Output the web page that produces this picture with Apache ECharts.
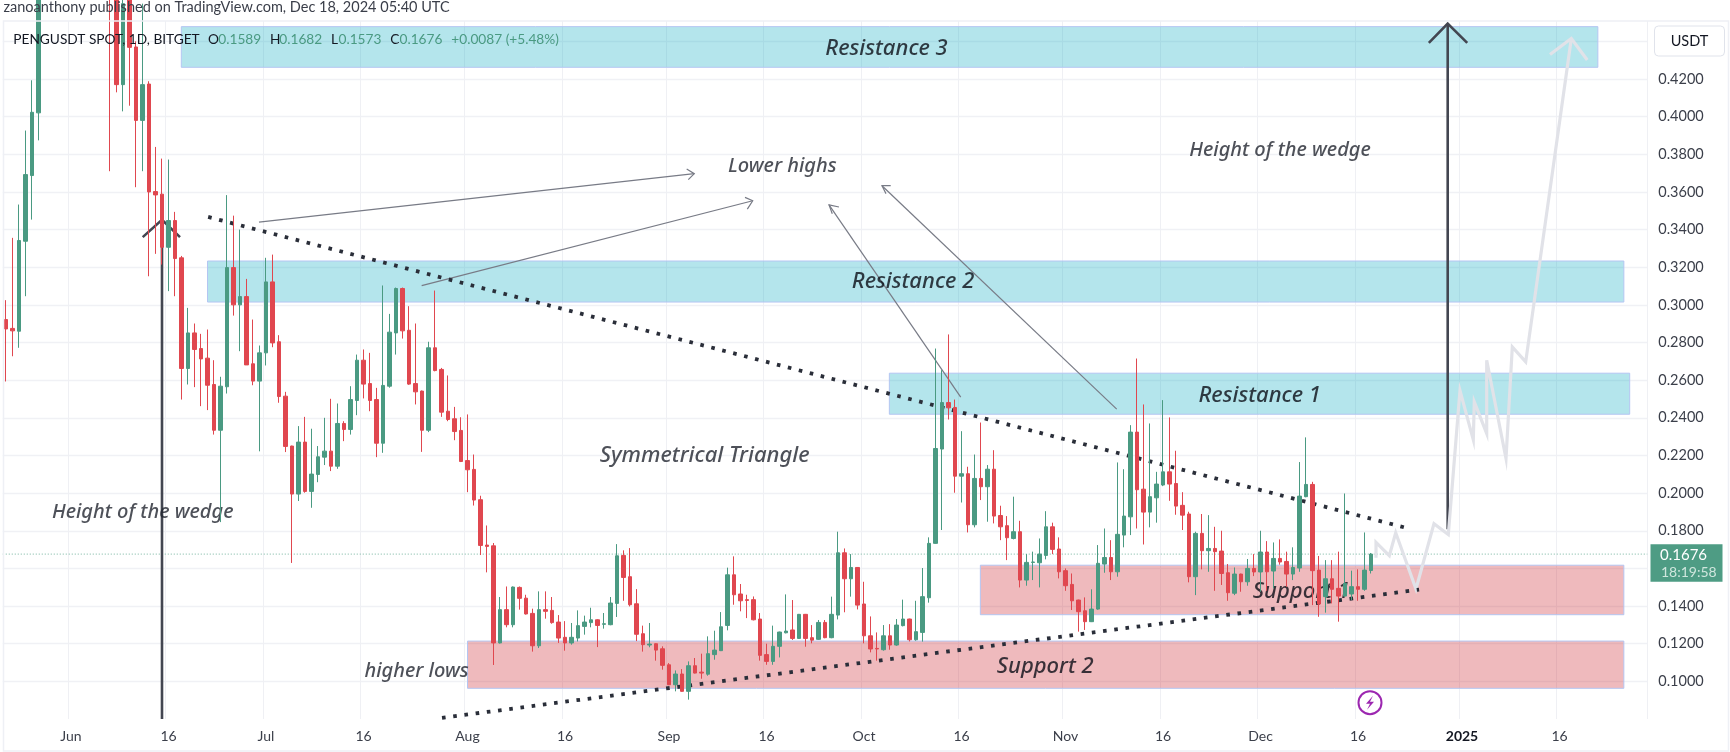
<!DOCTYPE html>
<html>
<head>
<meta charset="utf-8">
<script src="https://cdn.jsdelivr.net/npm/echarts@6/dist/echarts.min.js"></script>
<style>html,body{margin:0;padding:0;background:#fff}#c{width:1730px;height:752px}</style>
</head>
<body>
<div id="c"></div>
<script>
const firstDay = '2024-05-22';
const dayCount = 253;
const xTickLabels = {'2024-06-01':'Jun','2024-06-16':'16','2024-07-01':'Jul','2024-07-16':'16','2024-08-01':'Aug','2024-08-16':'16','2024-09-01':'Sep','2024-09-16':'16','2024-10-01':'Oct','2024-10-16':'16','2024-11-01':'Nov','2024-11-16':'16','2024-12-01':'Dec','2024-12-16':'16','2025-01-01':'2025','2025-01-16':'16'};
const yTickLabels = ['0.1000','0.1200','0.1400','0.1600','0.1800','0.2000','0.2200','0.2400','0.2600','0.2800','0.3000','0.3200','0.3400','0.3600','0.3800','0.4000','0.4200'];

const opens = [
.2922,.2875,.2860,.3338,.3687,.4020,.4700,.5050,.5400,.5250,
.5600,.5300,.5500,.5200,.5350,.4900,.4750,.4700,.4170,.4700,
.4370,.3980,.4173,.3602,.3588,.3306,.3448,.3250,.2662,.2851,
.2768,.2717,.2577,.2334,.2565,.3198,.3000,.3044,.2687,.2595,
.2745,.3122,.2804,.2515,.2250,.1995,.2271,.2009,.2099,.2191,
.2223,.2143,.2370,.2338,.2492,.2706,.2582,.2497,.2265,.2568,
.2851,.3087,.2865,.2582,.2542,.2334,.2772,.2657,.2435,.2395,
.2333,.2173,.2126,.1965,.1724,.1720,.1204,.1381,.1301,.1499,
.1442,.1361,.1189,.1381,.1377,.1315,.1234,.1204,.1230,.1292,
.1312,.1327,.1303,.1301,.1414,.1669,.1556,.1412,.1253,.1193,
.1200,.1173,.1088,.0982,.1039,.0947,.1083,.1049,.1038,.1142,
.1163,.1297,.1566,.1464,.1434,.1434,.1331,.1142,.1106,.1186,
.1258,.1273,.1228,.1356,.1232,.1223,.1313,.1232,.1352,.1683,
.1545,.1605,.1411,.1242,.1175,.1168,.1242,.1193,.1296,.1331,
.1221,.1260,.1444,.1733,.2234,.2481,.2455,.2090,.2103,.1832,
.2078,.2034,.2127,.1881,.1827,.1759,.1795,.1538,.1632,.1630,
.1669,.1821,.1703,.1588,.1515,.1432,.1375,.1317,.1384,.1623,
.1658,.1582,.1777,.1874,.2324,.2021,.1899,.1975,.2043,.2113,
.2051,.1935,.1889,.1556,.1786,.1694,.1706,.1692,.1577,.1468,
.1570,.1529,.1600,.1581,.1687,.1586,.1653,.1637,.1570,.1602,
.1981,.2046,.1591,.1450,.1545,.1494,.1453,.1464,.1503,.1489,
.1589];
const closes = [
.2872,.2862,.3342,.3692,.4023,.4700,.5050,.5400,.5250,.5600,
.5300,.5500,.5200,.5350,.4900,.4750,.4700,.4170,.4600,.4368,
.3980,.4170,.3600,.3584,.3306,.3448,.3246,.2662,.2851,.2763,
.2713,.2573,.2334,.2568,.3198,.3000,.3044,.2681,.2595,.2745,
.3122,.2798,.2513,.2248,.1995,.2271,.2009,.2101,.2193,.2223,
.2143,.2370,.2338,.2497,.2706,.2579,.2492,.2265,.2572,.2855,
.3087,.2862,.2579,.2538,.2334,.2772,.2651,.2430,.2391,.2327,
.2168,.2124,.1963,.1722,.1717,.1204,.1381,.1301,.1501,.1441,
.1358,.1189,.1381,.1372,.1312,.1230,.1204,.1234,.1296,.1315,
.1327,.1297,.1306,.1416,.1667,.1552,.1407,.1250,.1195,.1198,
.1166,.1085,.0982,.1039,.0947,.1083,.1044,.1044,.1147,.1166,
.1290,.1566,.1460,.1428,.1430,.1327,.1138,.1106,.1186,.1262,
.1267,.1228,.1356,.1228,.1219,.1313,.1232,.1356,.1683,.1545,
.1605,.1405,.1242,.1172,.1172,.1242,.1193,.1299,.1331,.1221,
.1264,.1450,.1733,.2237,.2481,.2453,.2090,.2103,.1832,.2078,
.2034,.2127,.1878,.1821,.1763,.1795,.1538,.1632,.1634,.1676,
.1821,.1701,.1582,.1508,.1428,.1370,.1317,.1384,.1627,.1658,
.1582,.1781,.1878,.2324,.2018,.1899,.1981,.2048,.2113,.2048,
.1931,.1883,.1556,.1786,.1694,.1706,.1689,.1573,.1471,.1570,
.1529,.1600,.1581,.1687,.1582,.1653,.1634,.1570,.1605,.1984,
.2046,.1588,.1411,.1545,.1489,.1453,.1520,.1503,.1489,.1591,
.1676];
const lows = [
.2593,.2727,.2772,.3046,.3453,.3874,.4600,.4950,.5100,.5150,
.5200,.5100,.5000,.5000,.4800,.4600,.3710,.4129,.4028,.4058,
.3625,.3710,.3152,.3271,.3214,.3073,.3046,.2497,.2577,.2563,
.2462,.2441,.2311,.1846,.2529,.2943,.2754,.2681,.2573,.2222,
.2678,.2775,.2480,.2218,.1629,.1958,.2002,.1922,.2058,.2149,
.2117,.2129,.2276,.2311,.2414,.2503,.2435,.2191,.2214,.2560,
.2736,.2821,.2575,.2471,.2219,.2324,.2647,.2405,.2382,.2281,
.2165,.2005,.1934,.1671,.1579,.1087,.1201,.1287,.1287,.1381,
.1355,.1158,.1177,.1333,.1306,.1204,.1163,.1195,.1212,.1248,
.1287,.1182,.1280,.1298,.1342,.1428,.1398,.1214,.1158,.1181,
.1110,.1062,.0980,.0947,.0945,.0903,.1042,.1014,.1030,.1115,
.1161,.1271,.1407,.1372,.1336,.1324,.1110,.1088,.1088,.1127,
.1255,.1220,.1226,.1184,.1202,.1220,.1229,.1229,.1329,.1367,
.1450,.1382,.1202,.1154,.1110,.1163,.1168,.1189,.1292,.1212,
.1216,.1211,.1418,.1731,.1804,.2391,.2002,.1950,.1791,.1818,
.1963,.1848,.1839,.1750,.1644,.1754,.1499,.1508,.1538,.1499,
.1648,.1676,.1547,.1481,.1379,.1264,.1273,.1315,.1380,.1577,
.1538,.1556,.1712,.1777,.1812,.1727,.1818,.1843,.2037,.1959,
.1885,.1804,.1526,.1458,.1595,.1582,.1481,.1512,.1428,.1458,
.1476,.1508,.1559,.1476,.1481,.1494,.1620,.1503,.1538,.1582,
.1978,.1405,.1343,.1365,.1414,.1317,.1450,.1432,.1428,.1481,
.1573];
const highs = [
.3025,.3356,.3533,.3926,.4193,.4850,.5200,.5600,.5700,.5800,
.5900,.5700,.5600,.5500,.5400,.5000,.4900,.4800,.4700,.4800,
.4400,.4600,.4188,.3839,.3777,.3772,.3494,.3260,.2984,.2901,
.2846,.2869,.2706,.2618,.3583,.3474,.3400,.3138,.2922,.2784,
.3250,.3267,.2839,.2538,.2252,.2356,.2405,.2342,.2250,.2400,
.2501,.2476,.2382,.2568,.2736,.2763,.2745,.2559,.3103,.2952,
.3092,.3092,.2993,.2901,.2545,.2804,.3076,.2665,.2625,.2458,
.2403,.2418,.2205,.1986,.1828,.1735,.1448,.1504,.1504,.1504,
.1460,.1386,.1478,.1478,.1448,.1352,.1320,.1310,.1377,.1349,
.1391,.1330,.1363,.1448,.1729,.1696,.1708,.1490,.1296,.1310,
.1202,.1186,.1097,.1058,.1065,.1106,.1124,.1147,.1239,.1269,
.1368,.1604,.1664,.1517,.1460,.1451,.1363,.1200,.1296,.1264,
.1462,.1432,.1358,.1358,.1299,.1326,.1326,.1450,.1795,.1706,
.1676,.1607,.1529,.1345,.1260,.1299,.1304,.1331,.1434,.1333,
.1428,.1602,.1765,.2768,.2653,.2843,.2497,.2329,.2140,.2205,
.2375,.2149,.2228,.1933,.1878,.1981,.1853,.1676,.1689,.1759,
.1904,.1843,.1765,.1600,.1573,.1434,.1446,.1489,.1724,.1812,
.1750,.2163,.2127,.2361,.2715,.2471,.2370,.2113,.2494,.2402,
.2225,.2005,.1901,.1795,.1889,.1883,.1821,.1800,.1623,.1605,
.1572,.1650,.1676,.1800,.1745,.1738,.1754,.1689,.1712,.2165,
.2296,.2060,.1666,.1644,.1644,.1689,.1998,.1588,.1595,.1791,
.1682];

const zoneStart  = [26.97, 31.0, 135.9, 149.9, 71.0];
const zoneEnd    = [244.9, 248.9, 249.8, 248.9, 248.9];
const zoneTop    = [.4478, .3233, .2637, .1617, .1214];
const zoneBottom = [.4262, .3015, .2419, .1354, .0963];
const zoneFill   = ['blue','blue','blue','red','red'];

const upperTrend = [[31.1,.3467],[215.7,.1813]];
const lowerTrend = [[67.08,.0806],[217.4,.1487]];
const leftArrow  = [[24,.08],[24,.3452]];
const leftHead   = [[21.03,.336],[24,.3452],[26.77,.336]];
const rightArrow = [[221.8,.1808],[221.8,.4494]];
const rightHead  = [[218.9,.4392],[221.8,.4494],[224.8,.4392]];
const lowerHighA = [[38.92,.344],[105.89,.3697]];
const headA = [[104.72,.3722],[105.89,.3697],[104.97,.3665]];
const lowerHighB = [[63.95,.3102],[114.88,.3553]];
const headB = [[113.69,.3571],[114.88,.3553],[114.05,.3509]];
const lowerHighC = [[146.88,.251],[126.62,.3531]];
const headC = [[128.15,.352],[126.62,.3531],[127.12,.3484]];
const lowerHighD = [[170.88,.2446],[134.77,.3633]];
const headD = [[136.11,.3633],[134.77,.3633],[135.38,.3591]];
const projection = [[210.77,.1656],[210.77,.1738],[212.82,.1668],[213.8,.1789],[216.92,.1491],[219.69,.1838],[221.89,.178],[223.69,.2545],[225.74,.2283],[225.89,.2485],[227.8,.2317],[227.8,.2706],[230.77,.2184],[231.74,.2777],[233.8,.2697],[240.82,.4415]];
const projectionHead = [[237.54,.433],[240.82,.4415],[243.27,.4301]];

const bigNotes = [['Resistance 3',135.46,.4377],['Resistance 2',139.54,.3137],['Resistance 1',192.87,.2533],['Support 1',199.28,.1491],['Support 2',159.88,.1092]];
const smallNotes = [['Height of the wedge',21.03,.1916],['Height of the wedge',196,.3836],['Lower highs',119.43,.375],['higher lows',63.17,.1067]];
const titleNotes = [['Symmetrical Triangle',107.49,.2214]];

const lastPrice = .1676;
const UP = '#4a9a82', DOWN = '#e0474f', INK = '#2a2e39', GRID = '#f0f1f5';
const UI_FONT = 'Lato', NOTE_FONT = 'Noto Sans';

const categories = [];
{ const d = new Date(firstDay + 'T00:00:00Z');
  for (let i = 0; i < dayCount; i++) { categories.push(d.toISOString().slice(0, 10)); d.setUTCDate(d.getUTCDate() + 1); } }
const isTick = (i, v) => v in xTickLabels;

function poly(data, color, width, z, type) {
  return {type:'line', xAxisIndex:1, yAxisIndex:0, data, symbol:'none', silent:true, z,
    lineStyle:{color, width, type:type || 'solid', cap:'butt', join:'miter'}, animation:false};
}
function notes(list, size, color) {
  return {type:'scatter', xAxisIndex:1, yAxisIndex:0, symbolSize:1, silent:true, z:3,
    itemStyle:{color:'rgba(0,0,0,0)'},
    data:list.map(n => ({name:n[0], value:[n[1], n[2]]})),
    label:{show:true, position:'inside', offset:[0,3], formatter:'{b}', fontFamily:NOTE_FONT, fontStyle:'italic', fontWeight:500, fontSize:size, color}};
}
const gtext = (x, y, text, font, fill, align) => ({type:'text', z:50, style:{x, y, text, font, fill, align:align || 'left', verticalAlign:'middle'}});

const legendFont = '13.7px ' + UI_FONT;
const option = {
  animation:false,
  backgroundColor:'#ffffff',
  grid:{left:2.75, top:21, width:1644.5, height:698, containLabel:false},
  xAxis:[
    {type:'category', data:categories, boundaryGap:true, axisLine:{show:false},
      axisTick:{show:false, alignWithLabel:true, interval:isTick},
      splitLine:{show:true, interval:isTick, lineStyle:{color:'#eff0f4', width:1}},
      axisLabel:{interval:isTick, margin:10, fontFamily:UI_FONT, fontSize:14, color:'#3b3f4a', hideOverlap:false,
        formatter:v => xTickLabels[v] === '2025' ? '{b|2025}' : (xTickLabels[v] || ''),
        rich:{b:{fontFamily:UI_FONT, fontSize:14, fontWeight:'bold', color:'#131722'}}}},
    {type:'value', min:-0.5, max:252.5, show:false, splitLine:{show:false}}
  ],
  yAxis:[{type:'value', position:'right', min:0.08, max:0.4508, interval:0.02, scale:true,
    axisLine:{show:false}, axisTick:{show:false},
    splitLine:{show:true, showMinLine:false, showMaxLine:false, lineStyle:{color:GRID, width:1.4}},
    axisLabel:{margin:11, fontFamily:UI_FONT, fontSize:14.5, color:'#3b3f4a',
      showMinLabel:false, showMaxLabel:false,
      formatter:v => yTickLabels.includes(v.toFixed(4)) ? v.toFixed(4) : ''}}],
  series:[
    {type:'line', xAxisIndex:1, yAxisIndex:0, data:[], silent:true, z:1,
      markArea:{silent:true, z:1, data:zoneStart.map((s, i) => [
        {coord:[s, zoneTop[i]], itemStyle:{color:zoneFill[i] === 'blue' ? 'rgba(8,168,192,0.30)' : 'rgba(201,25,38,0.30)', borderColor:'#b4c6f2', borderWidth:1}},
        {coord:[zoneEnd[i], zoneBottom[i]]}])}},
    poly([[-0.5,lastPrice],[252.5,lastPrice]], '#74b39e', 1, 2, [1,2]),
    poly(leftArrow, '#434651', 2.6, 2), poly(leftHead, '#434651', 2.6, 2),
    poly(rightArrow, '#434651', 2.6, 2), poly(rightHead, '#434651', 2.6, 2),
    poly(projection, '#e1e2e8', 3.2, 2), poly(projectionHead, '#e1e2e8', 3.2, 2),
    poly(lowerHighA, '#787b86', 1.2, 2), poly(headA, '#787b86', 1.2, 2),
    poly(lowerHighB, '#787b86', 1.2, 2), poly(headB, '#787b86', 1.2, 2),
    poly(lowerHighC, '#787b86', 1.2, 2), poly(headC, '#787b86', 1.2, 2),
    poly(lowerHighD, '#787b86', 1.2, 2), poly(headD, '#787b86', 1.2, 2),
    poly(upperTrend, INK, 3.8, 2, [3.6, 7.7]),
    poly(lowerTrend, INK, 3.8, 2, [3.6, 7.7]),
    notes(bigNotes, 22, '#0b0e16'),
    notes(smallNotes, 20, '#22262f'),
    notes(titleNotes, 22, '#22262f'),
    {type:'candlestick', xAxisIndex:0, yAxisIndex:0, z:5, silent:true, barWidth:4,
      data:opens.map((o, i) => [o, closes[i], lows[i], highs[i]]),
      itemStyle:{color:UP, color0:DOWN, borderColor:UP, borderColor0:DOWN, borderWidth:1}}
  ],
  graphic:{elements:[
    {type:'rect', z:40, shape:{x:3.5, y:21, width:1725, height:730}, style:{fill:'none', stroke:'#eef0f5', lineWidth:1.5}},
    gtext(3.5, 7, 'zanoanthony published on TradingView.com, Dec 18, 2024 05:40 UTC', '14.5px ' + UI_FONT, '#3a3e49'),
    gtext(13.3, 40, 'PENGUSDT SPOT, 1D, BITGET', legendFont, '#131722'),
    gtext(208, 40, 'O', legendFont, '#131722'), gtext(218.3, 40, '0.1589', legendFont, UP),
    gtext(270, 40, 'H', legendFont, '#131722'), gtext(279.3, 40, '0.1682', legendFont, UP),
    gtext(331, 40, 'L', legendFont, '#131722'), gtext(338.5, 40, '0.1573', legendFont, UP),
    gtext(390.3, 40, 'C', legendFont, '#131722'), gtext(399.5, 40, '0.1676', legendFont, UP),
    gtext(451.3, 40, '+0.0087 (+5.48%)', legendFont, UP),
    {type:'rect', z:45, shape:{x:1654.5, y:26, width:70, height:30, r:4}, style:{fill:'#fff', stroke:'#e0e3eb', lineWidth:1}},
    gtext(1689.5, 41, 'USDT', '14.5px ' + UI_FONT, '#131722', 'center'),
    {type:'rect', z:45, shape:{x:1650.5, y:544.3, width:72, height:37.5}, style:{fill:'#4e9c84'}},
    gtext(1660, 555.5, '0.1676', '15px ' + UI_FONT, '#ffffff'),
    gtext(1661, 572, '18:19:58', '14px ' + UI_FONT, '#cfe6dd'),
    {type:'circle', z:45, shape:{cx:1370, cy:702.7, r:11.5}, style:{fill:'#fff', stroke:'#9c27b0', lineWidth:2}},
    {type:'polygon', z:46, shape:{points:[[1373,695.7],[1366,703.7],[1370,703.7],[1367,709.7],[1374,701.7],[1370,701.7]]}, style:{fill:'#9c27b0'}}
  ]}
};
const chart = echarts.init(document.getElementById('c'), null, {renderer:'canvas'});
chart.setOption(option);
</script>
</body>
</html>
